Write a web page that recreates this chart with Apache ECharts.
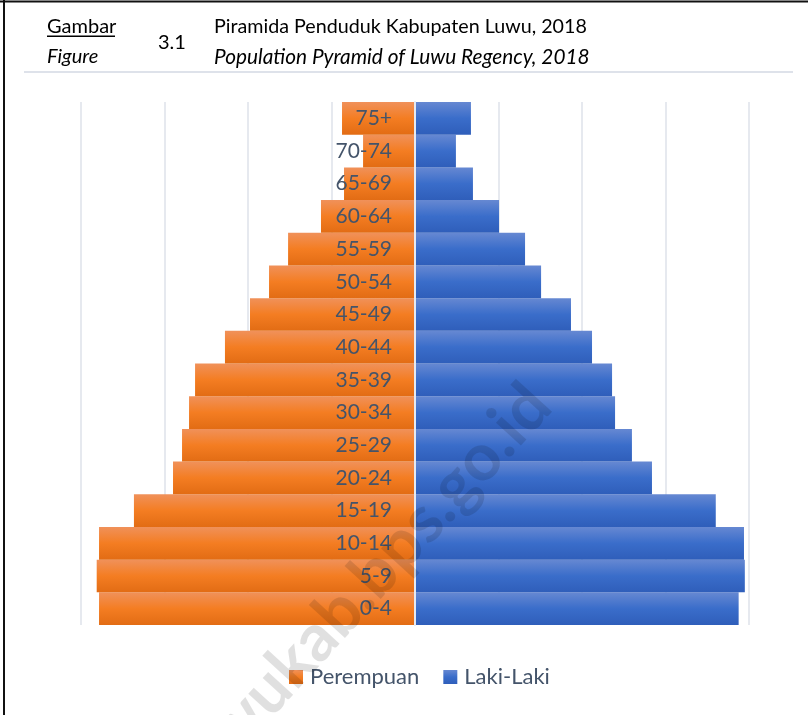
<!DOCTYPE html>
<html>
<head>
<meta charset="utf-8">
<title>Piramida Penduduk Kabupaten Luwu, 2018</title>
<script src="https://cdn.jsdelivr.net/npm/echarts@6/dist/echarts.min.js"></script>
<style>
    html, body { margin: 0; padding: 0; background: #fff; }
    #pyramidChart { width: 808px; height: 715px; }
</style>
</head>
<body>
<div id="pyramidChart"></div>
<script>
// Kelompok umur (bawah ke atas)
const ageGroups = ['0-4', '5-9', '10-14', '15-19', '20-24', '25-29', '30-34', '35-39',
    '40-44', '45-49', '50-54', '55-59', '60-64', '65-69', '70-74', '75+'];

// Jumlah penduduk perempuan
const perempuan = [18920, 19060, 18920, 16830, 14490, 13950, 13530, 13170,
    11380, 9880, 8740, 7600, 5630, 4250, 3110, 4370];

// Jumlah penduduk laki-laki
const lakiLaki = [19380, 19750, 19700, 18010, 14190, 12990, 11980, 11800,
    10600, 9340, 7550, 6590, 5030, 3470, 2450, 3350];

const axisMax = 20000;
const axisStep = 5000;

const GRID_LEFT = 81;
const GRID_RIGHT = 59;
const WIDTH = 808;

const FONT = 'Lato, "Open Sans", sans-serif';
const LABEL_COLOR = '#44546A';

function vGradient(top, mid, bottom) {
    return new echarts.graphic.LinearGradient(0, 0, 0, 1, [
        { offset: 0, color: top },
        { offset: 0.5, color: mid },
        { offset: 1, color: bottom }
    ]);
}

function headerGraphics() {
    return [
        // bingkai kiri dan atas
        { type: 'rect', shape: { x: 3, y: 0, width: 2, height: 715 }, style: { fill: '#111' } },
        { type: 'rect', shape: { x: 0, y: 0.5, width: 808, height: 2 }, style: { fill: '#111' } },
        { type: 'text', x: 47, y: 27, style: { text: 'Gambar', font: '20px ' + FONT, fill: '#000', verticalAlign: 'middle' } },
        { type: 'rect', shape: { x: 47, y: 35.5, width: 68, height: 1.5 }, style: { fill: '#000' } },
        { type: 'text', x: 47, y: 57, style: { text: 'Figure', font: 'italic 20px ' + FONT, fill: '#000', verticalAlign: 'middle' } },
        { type: 'text', x: 158, y: 43, style: { text: '3.1', font: '20px ' + FONT, fill: '#000', verticalAlign: 'middle' } },
        { type: 'text', x: 214, y: 27, style: { text: 'Piramida Penduduk Kabupaten Luwu, 2018', font: '19.7px ' + FONT, fill: '#000', verticalAlign: 'middle' } },
        { type: 'text', x: 214, y: 57, style: { text: 'Population Pyramid of Luwu Regency, 2018', font: 'italic 20.8px ' + FONT, fill: '#000', verticalAlign: 'middle' } },
        { type: 'rect', shape: { x: 24, y: 71, width: 769, height: 2 }, style: { fill: '#DEE2EA' } },
        // watermark
        {
            type: 'text', x: 361, y: 589, rotation: 0.83, z: 100,
            style: {
                text: 'luwukab.bps.go.id', font: 'bold 66px ' + FONT,
                fill: 'rgba(0,0,0,0.12)', align: 'center', verticalAlign: 'middle'
            }
        }
    ];
}

const chart = echarts.init(document.getElementById('pyramidChart'));

// geser sumbu kategori ke titik nol di tengah grid
const plotWidth = WIDTH - GRID_LEFT - GRID_RIGHT;

const option = {
    animation: false,
    backgroundColor: '#fff',
    graphic: headerGraphics(),
    legend: {
        data: ['Perempuan', 'Laki-Laki'],
        bottom: 22,
        left: 284,
        icon: 'rect',
        itemWidth: 14,
        itemHeight: 14,
        itemGap: 24,
        textStyle: { fontFamily: FONT, fontSize: 22, color: LABEL_COLOR, padding: [0, 0, 0, 2] }
    },
    grid: { left: GRID_LEFT, right: GRID_RIGHT, top: 102, bottom: 90 },
    xAxis: {
        type: 'value',
        min: -axisMax,
        max: axisMax,
        interval: axisStep,
        axisLabel: { show: false },
        axisTick: { show: false },
        axisLine: { show: false },
        splitLine: { lineStyle: { color: '#DEE2EA', width: 1.5 } }
    },
    yAxis: {
        type: 'category',
        data: ageGroups,
        z: 10,
        offset: -plotWidth / 2,
        axisLine: { show: true, onZero: false, lineStyle: { color: '#E4E9F2', width: 2 } },
        axisTick: { show: false },
        axisLabel: {
            margin: 23,
            fontFamily: FONT,
            fontSize: 21,
            color: LABEL_COLOR
        }
    },
    series: [
        {
            name: 'Perempuan',
            type: 'bar',
            data: perempuan.map(v => -v),
            barGap: '-100%',
            barCategoryGap: '0%',
            itemStyle: { color: vGradient('#F0915A', '#F47D22', '#E26C14') }
        },
        {
            name: 'Laki-Laki',
            type: 'bar',
            data: lakiLaki,
            barGap: '-100%',
            barCategoryGap: '0%',
            itemStyle: { color: vGradient('#6688D2', '#3A6DCA', '#2F5EBA') }
        }
    ]
};

chart.setOption(option);
</script>
</body>
</html>
